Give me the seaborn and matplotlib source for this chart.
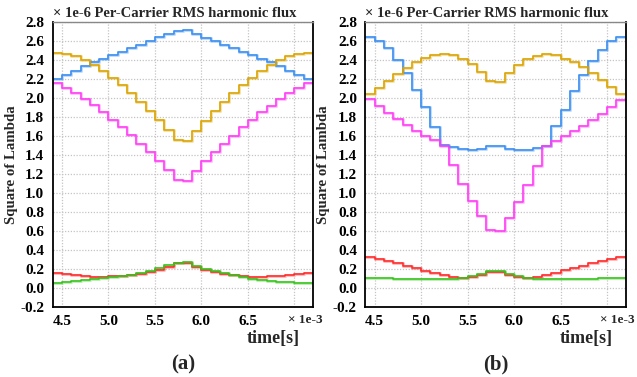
import numpy as np
import pandas as pd
import matplotlib
matplotlib.use("Agg")
import matplotlib.pyplot as plt
import seaborn as sns

# step edges in units of 1e-3 s (28 steps from 4.4 to 7.2)
t_edges = [4.4, 4.5, 4.6, 4.7, 4.8, 4.9, 5.0, 5.1, 5.2, 5.3, 5.4, 5.5, 5.6, 5.7,
           5.8, 5.9, 6.0, 6.1, 6.2, 6.3, 6.4, 6.5, 6.6, 6.7, 6.8, 6.9, 7.0, 7.1, 7.2]

# ---- panel (a) values (x 1e-6) ----
a_blue = [2.196, 2.242, 2.287, 2.333, 2.375, 2.414, 2.453, 2.487, 2.522, 2.561, 2.596, 2.638, 2.674, 2.708,
          2.712, 2.672, 2.632, 2.596, 2.558, 2.522, 2.486, 2.450, 2.412, 2.375, 2.335, 2.287, 2.245, 2.198]
a_gold = [2.474, 2.459, 2.438, 2.396, 2.347, 2.284, 2.214, 2.137, 2.053, 1.958, 1.863, 1.768, 1.666, 1.561,
          1.550, 1.655, 1.760, 1.860, 1.955, 2.050, 2.137, 2.214, 2.284, 2.347, 2.396, 2.438, 2.459, 2.474]
a_magenta = [2.158, 2.105, 2.053, 1.990, 1.922, 1.852, 1.771, 1.691, 1.607, 1.519, 1.431, 1.337, 1.238, 1.137,
             1.127, 1.232, 1.333, 1.427, 1.515, 1.603, 1.690, 1.771, 1.848, 1.919, 1.990, 2.049, 2.105, 2.161]
a_red = [0.160, 0.143, 0.136, 0.126, 0.118, 0.115, 0.122, 0.122, 0.133, 0.150, 0.171, 0.192, 0.220, 0.258,
         0.260, 0.224, 0.189, 0.168, 0.150, 0.136, 0.122, 0.115, 0.115, 0.122, 0.122, 0.136, 0.147, 0.160]
a_green = [0.055, 0.058, 0.069, 0.079, 0.093, 0.103, 0.113, 0.126, 0.140, 0.161, 0.182, 0.206, 0.238, 0.266,
           0.270, 0.234, 0.203, 0.178, 0.154, 0.133, 0.115, 0.098, 0.084, 0.073, 0.063, 0.059, 0.056, 0.055]

# ---- panel (b) values (x 1e-6) ----
b_blue = [2.642, 2.600, 2.522, 2.403, 2.263, 2.087, 1.901, 1.698, 1.505, 1.480, 1.463, 1.456, 1.466, 1.498,
          1.498, 1.466, 1.456, 1.456, 1.470, 1.500, 1.705, 1.877, 2.070, 2.245, 2.393, 2.508, 2.596, 2.642]
b_gold = [2.038, 2.108, 2.182, 2.256, 2.319, 2.375, 2.417, 2.453, 2.463, 2.449, 2.406, 2.354, 2.277, 2.175,
          2.168, 2.263, 2.347, 2.406, 2.442, 2.459, 2.453, 2.410, 2.379, 2.326, 2.259, 2.189, 2.116, 2.045]
b_magenta = [1.985, 1.912, 1.842, 1.779, 1.716, 1.656, 1.596, 1.558, 1.495, 1.291, 1.098, 0.915, 0.755, 0.611,
             0.601, 0.737, 0.902, 1.083, 1.282, 1.495, 1.550, 1.596, 1.652, 1.710, 1.772, 1.835, 1.905, 1.975]
b_red = [0.328, 0.307, 0.283, 0.258, 0.234, 0.206, 0.181, 0.157, 0.139, 0.118, 0.108, 0.118, 0.136, 0.171,
         0.171, 0.135, 0.115, 0.108, 0.118, 0.140, 0.160, 0.185, 0.210, 0.235, 0.260, 0.285, 0.310, 0.328]
b_green = [0.100, 0.100, 0.100, 0.097, 0.095, 0.093, 0.092, 0.092, 0.093, 0.097, 0.110, 0.125, 0.147, 0.177,
           0.178, 0.145, 0.122, 0.107, 0.098, 0.094, 0.093, 0.093, 0.094, 0.096, 0.098, 0.100, 0.100, 0.100]

y_ticks = [-0.2, 0.0, 0.2, 0.4, 0.6, 0.8, 1.0, 1.2, 1.4, 1.6, 1.8, 2.0, 2.2, 2.4, 2.6, 2.8]
x_ticks = [4.5, 5.0, 5.5, 6.0, 6.5, 7.0]
x_ticklabels = ["4.5", "5.0", "5.5", "6.0", "6.5", ""]

series_names = ["blue", "gold", "magenta", "red", "green"]
colors = {"blue": "#3a8ef0", "gold": "#dca400", "magenta": "#ff3cf5",
          "red": "#ff2a2a", "green": "#36c41c"}

sns.set_theme(style="white")
plt.rcParams["font.family"] = ["Liberation Serif", "DejaVu Serif"]
plt.rcParams["font.weight"] = "bold"


def make_df(vals):
    rows = []
    for name, v in zip(series_names, vals):
        vv = list(v) + [v[-1]]
        for t, y in zip(t_edges, vv):
            rows.append({"t": t, "val": y, "series": name})
    return pd.DataFrame(rows)


fig = plt.figure(figsize=(6.37, 3.77), dpi=100)
ax_a = fig.add_axes([0.0827, 0.1857, 0.4087, 0.7559])
ax_b = fig.add_axes([0.5735, 0.1857, 0.4087, 0.7559])

panels = [(ax_a, [a_blue, a_gold, a_magenta, a_red, a_green], "(a)"),
          (ax_b, [b_blue, b_gold, b_magenta, b_red, b_green], "(b)")]

for ax, vals, tag in panels:
    df = make_df(vals)
    # soft halo
    sns.lineplot(data=df, x="t", y="val", hue="series", palette=colors,
                 estimator=None, sort=False, drawstyle="steps-post",
                 linewidth=2.2, alpha=0.3, legend=False, ax=ax)
    sns.lineplot(data=df, x="t", y="val", hue="series", palette=colors,
                 estimator=None, sort=False, drawstyle="steps-post",
                 linewidth=1.15, legend=False, ax=ax)
    ax.set_xlim(4.4, 7.2)
    ax.set_ylim(-0.2, 2.8)
    ax.set_yticks(y_ticks)
    ax.set_yticklabels([f"{v:.1f}" for v in y_ticks])
    ax.set_xticks(x_ticks)
    ax.set_xticklabels(x_ticklabels)
    ax.tick_params(axis="both", direction="in", length=3, width=1, colors="black",
                   labelsize=11)
    ax.tick_params(axis="x", pad=6)
    ax.tick_params(axis="y", pad=6)
    for lab in ax.get_xticklabels() + ax.get_yticklabels():
        lab.set_fontweight("bold")
    ax.grid(True, color="#c4c4c4", linestyle=(0, (1, 1.3)), linewidth=0.9)
    ax.set_axisbelow(True)
    for s in ["left", "bottom", "right"]:
        ax.spines[s].set_color("black")
        ax.spines[s].set_linewidth(1.3)
    ax.spines["top"].set_color("#888888")
    ax.spines["top"].set_linewidth(1.0)
    ax.set_xlabel("")
    ax.set_ylabel("Square of Lambda", fontsize=10.7, fontweight="bold", labelpad=2)
    ax.text(0.0, 1.0175, "\u00d7 1e-6 Per-Carrier RMS harmonic flux", transform=ax.transAxes,
            ha="left", va="baseline", fontsize=10.5, fontweight="bold")
    ax.text(0.902, -0.046, "\u00d7 1e-3", transform=ax.transAxes, ha="left", va="center",
            fontsize=9.5, fontweight="bold", clip_on=False)
    ax.text(0.95, -0.112, "time[s]", transform=ax.transAxes, ha="right", va="center",
            fontsize=13, fontweight="bold")
    ax.text(0.5, -0.2, tag, transform=ax.transAxes, ha="center", va="center",
            fontsize=15, fontweight="bold")

fig.savefig("out.png", dpi=100)
